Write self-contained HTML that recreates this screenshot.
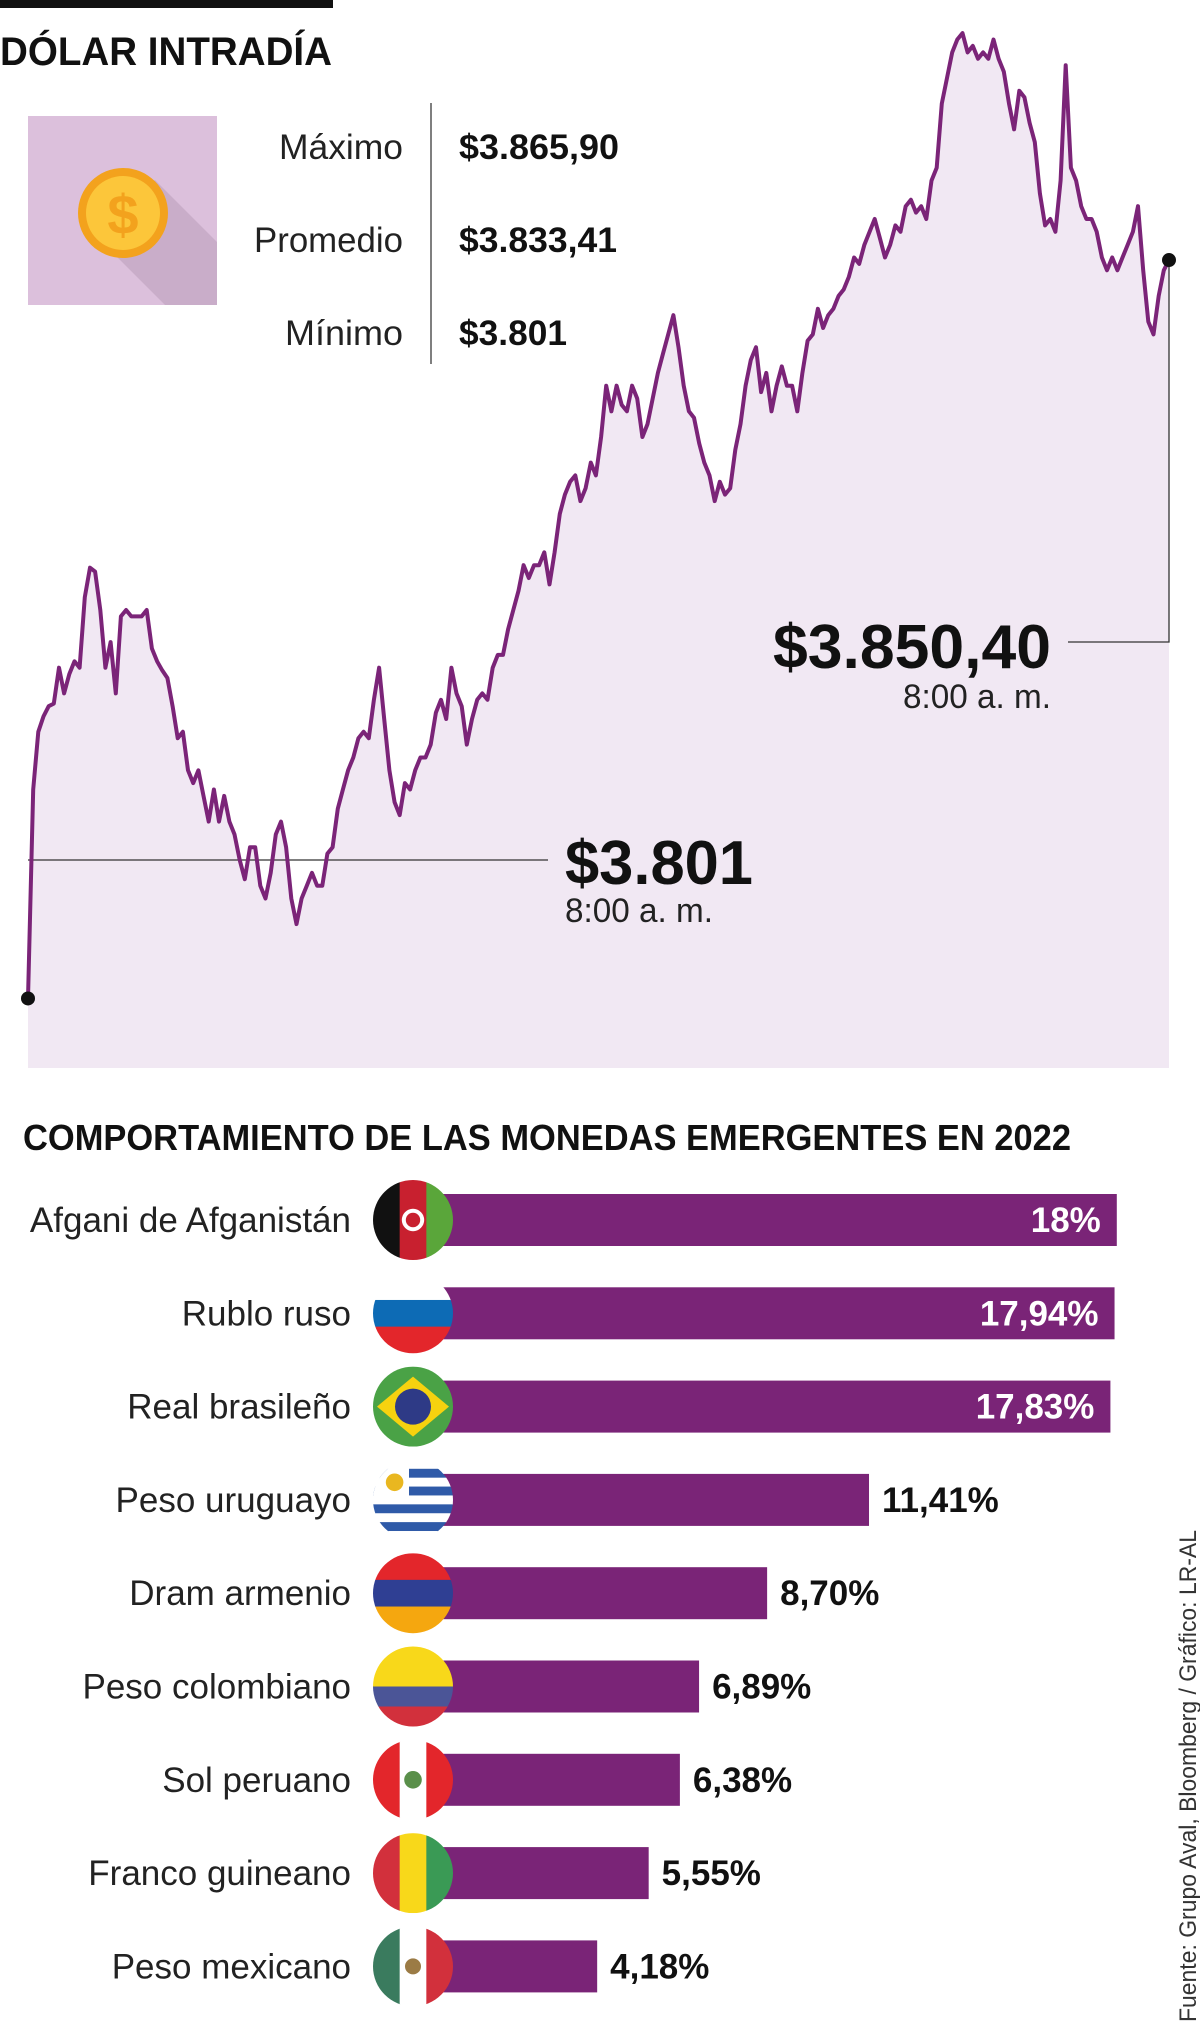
<!DOCTYPE html>
<html><head><meta charset="utf-8">
<style>
html,body{margin:0;padding:0;background:#fff;}
svg{display:block;}
text{font-family:"Liberation Sans",sans-serif;}
</style></head>
<body>
<svg id="root" width="1200" height="2024" viewBox="0 0 1200 2024" xmlns="http://www.w3.org/2000/svg">
  <defs>
    <clipPath id="coinShadow"><rect x="28" y="116" width="189" height="189"/></clipPath>
  </defs>
  <rect x="0" y="0" width="333" height="8" fill="#111"/>
  <text x="0" y="65" font-size="40" font-weight="bold" fill="#111" textLength="332" lengthAdjust="spacingAndGlyphs">DÓLAR INTRADÍA</text>

  <g id="line-chart"></g>

  <g>
    <rect x="28" y="116" width="189" height="189" fill="#dcc0dc"/>
    <polygon points="100,240 155,180 217,242 217,305 165,305" fill="#c9adc9" clip-path="url(#coinShadow)"/>
    <circle cx="123" cy="213" r="45" fill="#f3a21d"/>
    <circle cx="123" cy="213" r="37" fill="#fcc63a"/>
    <text x="123" y="234" text-anchor="middle" font-size="56" font-weight="bold" fill="#f3a21d">$</text>
  </g>

  <g>
    <line x1="431" y1="103" x2="431" y2="364" stroke="#555" stroke-width="1.5"/>
    <text x="403" y="159" text-anchor="end" font-size="35" fill="#222" textLength="124" lengthAdjust="spacingAndGlyphs">Máximo</text>
    <text x="403" y="252" text-anchor="end" font-size="35" fill="#222" textLength="149" lengthAdjust="spacingAndGlyphs">Promedio</text>
    <text x="403" y="345" text-anchor="end" font-size="35" fill="#222" textLength="118" lengthAdjust="spacingAndGlyphs">Mínimo</text>
    <text x="459" y="159" font-size="35" font-weight="bold" fill="#111" textLength="160" lengthAdjust="spacingAndGlyphs">$3.865,90</text>
    <text x="459" y="252" font-size="35" font-weight="bold" fill="#111" textLength="158" lengthAdjust="spacingAndGlyphs">$3.833,41</text>
    <text x="459" y="345" font-size="35" font-weight="bold" fill="#111" textLength="108" lengthAdjust="spacingAndGlyphs">$3.801</text>
  </g>

  <g id="bar-chart">
    <text x="23" y="1150" font-size="36" font-weight="bold" fill="#111" textLength="1048" lengthAdjust="spacingAndGlyphs">COMPORTAMIENTO DE LAS MONEDAS EMERGENTES EN 2022</text>
  </g>

  <text transform="translate(1196,2022) rotate(-90)" font-size="24" fill="#333" textLength="492" lengthAdjust="spacingAndGlyphs">Fuente: Grupo Aval, Bloomberg / Gráfico: LR-AL</text>
</svg>
<script>
// ---- Intraday line data ----
const priceValues = [3790.2,3806.5,3811,3812.2,3813,3813.2,3816,3814,3815.5,3816.5,3816,3821.5,3823.8,3823.5,3820.5,3816,3818,3814,3820,3820.5,3820,3820,3820,3820.5,3817.5,3816.5,3815.8,3815.2,3813,3810.5,3811,3808,3807,3808,3806,3804,3806.5,3804,3806,3804,3803,3801,3799.5,3802,3802,3799,3798,3800,3803,3804,3802,3798,3796,3798,3799,3800,3799,3799,3801.5,3802,3805,3806.5,3808,3809,3810.5,3811,3810.5,3813.5,3816,3812,3808,3805.5,3804.5,3807,3806.5,3808,3809,3809,3810,3812.5,3813.5,3812,3816,3814,3813,3810,3812,3813.5,3814,3813.5,3816,3817,3817,3819,3820.5,3822,3824,3823,3824,3824,3825,3822.5,3825,3828,3829.5,3830.5,3831,3829,3830,3832,3831,3834,3838,3836,3838,3836.5,3836,3838,3837,3834,3835,3837,3839,3840.5,3842,3843.5,3841,3838,3836,3835.5,3833.5,3832,3831,3829,3830.5,3829.5,3830,3833,3835,3838,3840,3841,3837.5,3839,3836,3838,3839.5,3838,3838,3836,3839,3841.5,3842,3844,3842.5,3843.5,3844,3845,3845.5,3846.5,3848,3847.5,3849,3850,3851,3849.5,3848,3849,3850.5,3850,3852,3852.5,3851.5,3852,3851,3854,3855,3860,3862,3864,3865,3865.5,3864,3864.5,3863.5,3864,3863.5,3865,3863.5,3862.5,3860,3858,3861,3860.5,3858.5,3857,3853,3850.5,3851,3850,3854,3863,3855,3854,3852,3851,3851,3850,3848,3847,3848,3847,3848,3849,3850,3852,3847,3843,3842,3845,3847,3847.8];
const minRefValue = 3801;
const lastLabel = "$3.850,40";
const minLabel = "$3.801";
const timeLabel = "8:00 a. m.";

// ---- Bar data ----
const currencies = ["Afgani de Afganistán","Rublo ruso","Real brasileño","Peso uruguayo","Dram armenio","Peso colombiano","Sol peruano","Franco guineano","Peso mexicano"];
const changes = [18,17.94,17.83,11.41,8.70,6.89,6.38,5.55,4.18];
const changeLabels = ["18%","17,94%","17,83%","11,41%","8,70%","6,89%","6,38%","5,55%","4,18%"];
const flagCodes = ["af","ru","br","uy","am","co","pe","gn","mx"];

const NS = "http://www.w3.org/2000/svg";
function mk(tag, attrs, parent){
  const e = document.createElementNS(NS, tag);
  for (const k in attrs) e.setAttribute(k, attrs[k]);
  if (parent) parent.appendChild(e);
  return e;
}

// ---- Line chart ----
const lc = document.getElementById('line-chart');
const X0 = 28, X1 = 1169, CH_BOTTOM = 1068;
function xLine(i){ return X0 + i * (X1 - X0) / (priceValues.length - 1); }
function yLine(v){ return 28 + (3865.9 - v) * 12.82; }

let d = "";
priceValues.forEach((v,i)=>{ d += (i? "L":"M") + xLine(i).toFixed(1) + "," + yLine(v).toFixed(1); });
const area = mk('path', {d: d + "L" + X1 + "," + CH_BOTTOM + "L" + X0 + "," + CH_BOTTOM + "Z", fill:"#f1e8f3"}, lc);



const yMin = yLine(minRefValue);
const minLine = mk('line', {x1:X0, y1:yMin, x2:548, y2:yMin, stroke:"#333", "stroke-width":1.3}, lc);



const line = mk('path', {d:d, fill:"none", stroke:"#7b2478", "stroke-width":4, "stroke-linejoin":"round"}, lc);



const lastI = priceValues.length - 1;
const lx = xLine(lastI), ly = yLine(priceValues[lastI]);
const endLeader = mk('path', {d:"M" + lx + "," + ly + "V642H1068", fill:"none", stroke:"#333", "stroke-width":1.3}, lc);



const d0 = mk('circle', {cx:xLine(0), cy:yLine(priceValues[0]), r:7, fill:"#111"}, lc);


const d1 = mk('circle', {cx:lx, cy:ly, r:7, fill:"#111"}, lc);



let t = mk('text', {x:1051, y:668, "text-anchor":"end", "font-size":62, "font-weight":"bold", fill:"#111", textLength:278, lengthAdjust:"spacingAndGlyphs"}, lc);
t.textContent = lastLabel;


t = mk('text', {x:1051, y:708, "text-anchor":"end", "font-size":34, fill:"#222", textLength:148, lengthAdjust:"spacingAndGlyphs"}, lc);
t.textContent = timeLabel;


t = mk('text', {x:565, y:884, "font-size":62, "font-weight":"bold", fill:"#111", textLength:188, lengthAdjust:"spacingAndGlyphs"}, lc);
t.textContent = minLabel;


t = mk('text', {x:565, y:922, "font-size":34, fill:"#222", textLength:148, lengthAdjust:"spacingAndGlyphs"}, lc);
t.textContent = timeLabel;



// ---- Bar chart ----
const bc = document.getElementById('bar-chart');
const ROW0 = 1220, ROWH = 93.3, BAR_H = 52, FLAG_X = 413, FLAG_R = 40;
function xBar(v){ return 440 + v * 37.6; }

function drawFlag(g, code, cx, cy, r, idx){
  const cid = 'fc' + idx;
  const cp = mk('clipPath', {id:cid}, g);
  mk('circle', {cx:cx, cy:cy, r:r}, cp);
  const fg = mk('g', {"clip-path":"url(#"+cid+")"}, g);
  const L = cx - r, T = cy - r, W = 2*r;
  const vstripes = cols => cols.forEach((c,k)=>mk('rect',{x:L+k*W/cols.length,y:T,width:W/cols.length+0.5,height:W,fill:c},fg));
  const hstripes = cols => cols.forEach((c,k)=>mk('rect',{x:L,y:T+k*W/cols.length,width:W,height:W/cols.length+0.5,fill:c},fg));
  if (code==="af"){ vstripes(["#111","#c8202f","#5aa63a"]); mk('circle',{cx:cx,cy:cy,r:r*0.28,fill:"#fff"},fg); mk('circle',{cx:cx,cy:cy,r:r*0.18,fill:"#c8202f"},fg); }
  else if (code==="ru") hstripes(["#fff","#0d6bb5","#e3262b"]);
  else if (code==="br"){ mk('rect',{x:L,y:T,width:W,height:W,fill:"#4aa246"},fg); mk('polygon',{points:(L+4)+","+cy+" "+cx+","+(T+10)+" "+(L+W-4)+","+cy+" "+cx+","+(T+W-10),fill:"#f6d20f"},fg); mk('circle',{cx:cx,cy:cy,r:r*0.45,fill:"#2e3a86"},fg); }
  else if (code==="uy"){ for(let k=0;k<9;k++) mk('rect',{x:L,y:T+k*W/9,width:W,height:W/9+0.5,fill:k%2?"#2f5aa8":"#fff"},fg); mk('rect',{x:L,y:T,width:W*0.45,height:W*0.55,fill:"#fff"},fg); mk('circle',{cx:L+W*0.27,cy:T+W*0.28,r:r*0.22,fill:"#e9b720"},fg); }
  else if (code==="am") hstripes(["#e3262b","#2f3f93","#f5a70f"]);
  else if (code==="co"){ mk('rect',{x:L,y:T,width:W,height:W/2,fill:"#f8d81a"},fg); mk('rect',{x:L,y:T+W/2,width:W,height:W/4+0.5,fill:"#4b5597"},fg); mk('rect',{x:L,y:T+W*0.75,width:W,height:W/4,fill:"#d2303c"},fg); }
  else if (code==="pe"){ vstripes(["#e3262b","#fff","#e3262b"]); mk('circle',{cx:cx,cy:cy,r:r*0.22,fill:"#5a8f4a"},fg); }
  else if (code==="gn") vstripes(["#d2303c","#f8d81a","#3a9a55"]);
  else if (code==="mx"){ vstripes(["#3a7b5e","#fff","#d2303c"]); mk('circle',{cx:cx,cy:cy,r:r*0.2,fill:"#9b7b45"},fg); }
}

currencies.forEach((name,i)=>{
  const cy = ROW0 + i*ROWH;
  const g = mk('g', {}, bc);
  
  

  const lab = mk('text', {x:351, y:cy+12, "text-anchor":"end", "font-size":35, fill:"#222"}, g);
  lab.textContent = name;
  
  

  const bar = mk('rect', {x:xBar(0), y:cy-BAR_H/2, width:xBar(changes[i])-xBar(0), height:BAR_H, fill:"#7a2477"}, g);
  
  

  const fl = mk('g', {}, g);
  
  
  drawFlag(fl, flagCodes[i], FLAG_X, cy, FLAG_R, i);

  const inside = changes[i] > 15;
  const vl = mk('text', {x: inside ? xBar(changes[i]) - 16 : xBar(changes[i]) + 13, y:cy+12, "text-anchor": inside ? "end" : "start", "font-size":35, "font-weight":"bold", fill: inside ? "#fff" : "#111"}, g);
  vl.textContent = changeLabels[i];
  
  
});
</script>
</body></html>
